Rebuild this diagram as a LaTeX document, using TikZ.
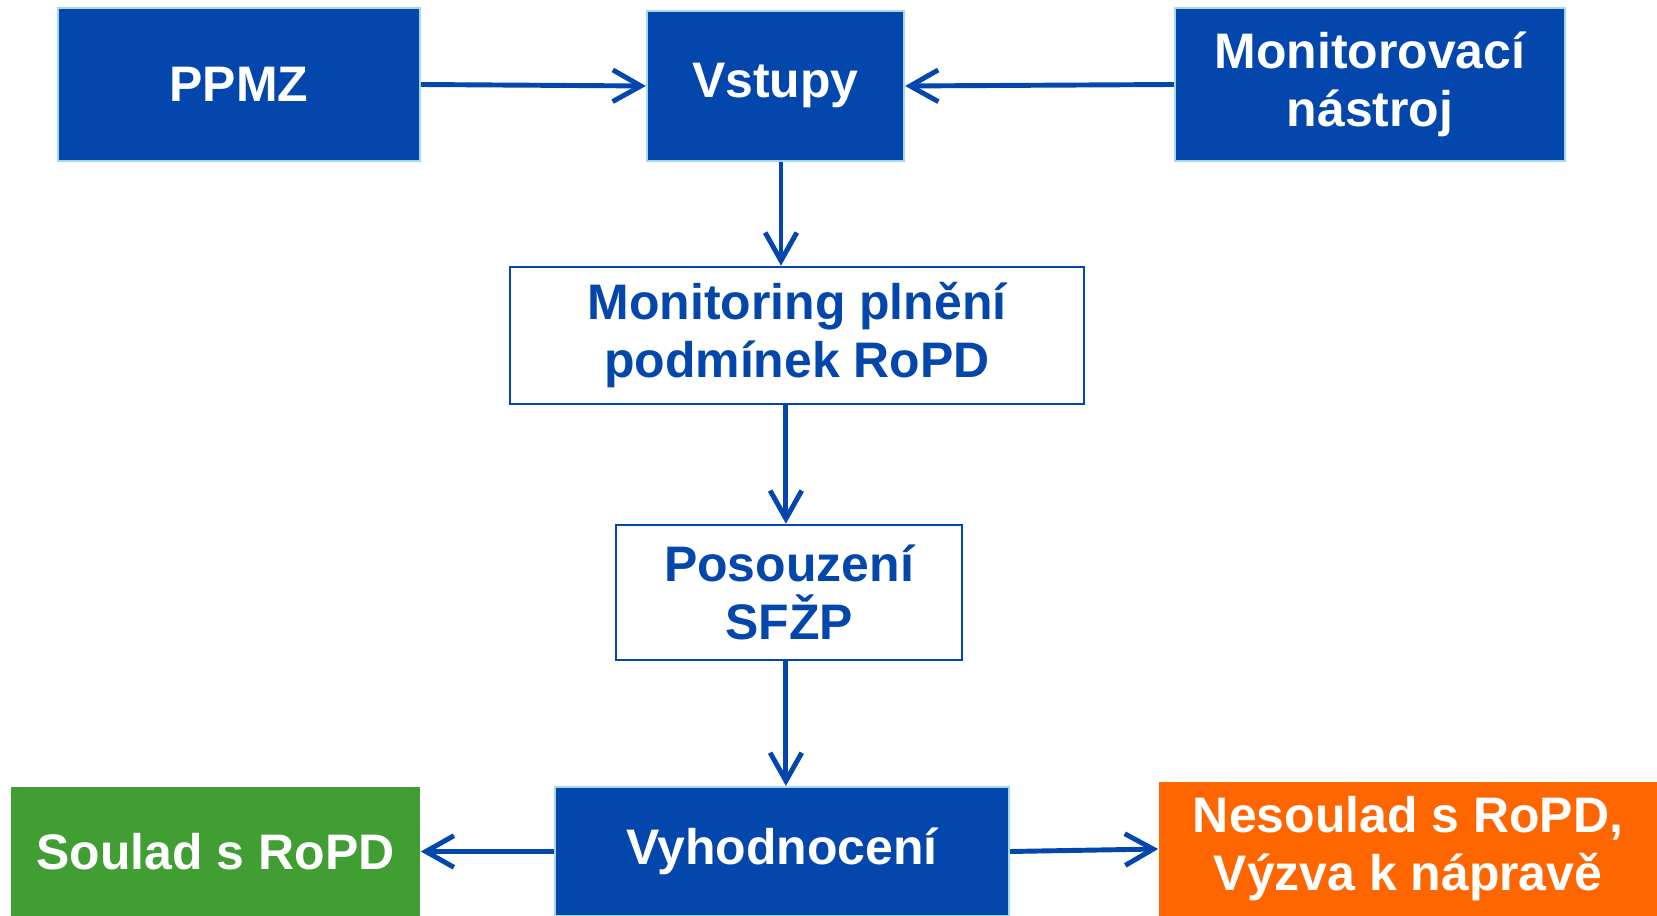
\documentclass[tikz,border=0pt]{standalone}
\usepackage{fontspec}
\setmainfont{Liberation Sans}
\usepackage{xcolor}
\usepackage{tikz}
\usetikzlibrary{arrows.meta}

\definecolor{ropdblue}{RGB}{3,71,173}
\definecolor{ropdedge}{RGB}{166,216,230}
\definecolor{ropdgreen}{RGB}{64,158,51}
\definecolor{ropdorange}{RGB}{255,102,0}

\begin{document}
\begin{tikzpicture}[x=0.01cm, y=-0.01cm,
  boxtext/.style={font=\bfseries\fontsize{14.2}{16.5}\selectfont, align=center, inner sep=0pt},
  bluebox/.style={boxtext, draw=ropdedge, line width=0.6pt, fill=ropdblue, text=white},
  whitebox/.style={boxtext, draw=ropdblue, line width=0.7pt, fill=white, text=ropdblue},
  flow/.style={draw=ropdblue, line width=1.4pt, -{Straight Barb[length=8pt,width=9pt]}}]
  \useasboundingbox (0,0) rectangle (1657,916);

  % Top row
  \node[bluebox, minimum width=3.62cm, minimum height=1.53cm] (ppmz) at (239,84.5) {PPMZ};
  \node[bluebox, minimum width=2.57cm, minimum height=1.50cm] (vstupy) at (775.5,86) {Vstupy};
  \node[bluebox, minimum width=3.90cm, minimum height=1.53cm] (nastroj) at (1370,84.5) {Monitorovací\\nástroj};

  % Middle column
  \node[whitebox, minimum width=5.74cm, minimum height=1.37cm] (monitoring) at (797,335.5) {Monitoring plnění\\podmínek RoPD};
  \node[whitebox, minimum width=3.46cm, minimum height=1.35cm] (posouzeni) at (789,592.5) {Posouzení\\SFŽP};

  % Bottom row
  \node[bluebox, minimum width=4.54cm, minimum height=1.29cm] (vyhodnoceni) at (782,851.5) {Vyhodnocení};
  \node[boxtext, fill=ropdgreen, text=white, minimum width=4.09cm, minimum height=1.29cm] (soulad) at (215.5,851.5) {Soulad s RoPD};
  \node[boxtext, fill=ropdorange, text=white, minimum width=4.98cm, minimum height=1.34cm] (nesoulad) at (1408,849) {Nesoulad s RoPD,\\Výzva k nápravě};

  % Inputs
  \draw[flow] (ppmz.east) -- (vstupy.west);
  \draw[flow] (nastroj.west) -- (vstupy.east);

  % Vertical flow
  \coordinate (spine) at (781,0);
  \draw[flow] (spine |- vstupy.south) -- (spine |- monitoring.north);
  \draw[flow] ([xshift=1.4pt] spine |- monitoring.south) -- ([xshift=1.4pt] spine |- posouzeni.north);
  \draw[flow] ([xshift=1.4pt] spine |- posouzeni.south) -- ([xshift=1.4pt] spine |- vyhodnoceni.north);

  % Outcomes
  \draw[flow] (vyhodnoceni.west) -- (soulad.east);
  \draw[flow] (vyhodnoceni.east) -- (nesoulad.west);

\end{tikzpicture}
\end{document}
